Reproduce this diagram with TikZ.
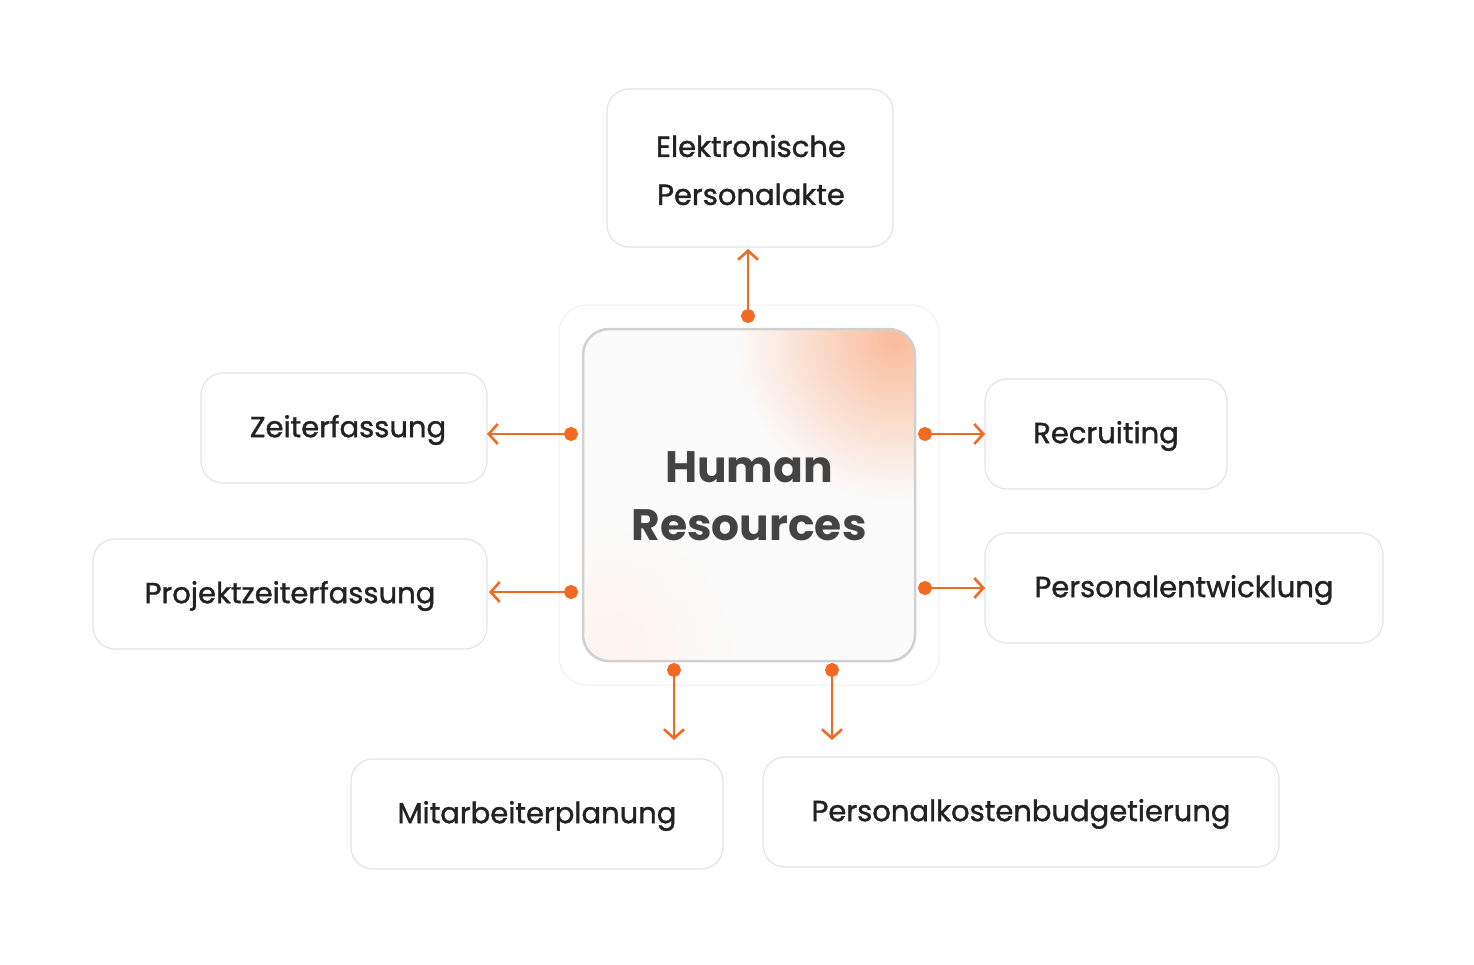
\documentclass[tikz,border=0pt]{standalone}
\usepackage{fontspec}
\setmainfont{Poppins}
\newfontfamily\med{Poppins}[FakeBold=1.3]
\usetikzlibrary{arrows.meta}
\definecolor{org}{HTML}{F26A21}
\definecolor{bord}{HTML}{E4E4E4}
\definecolor{txt}{HTML}{222222}
\begin{document}
\begin{tikzpicture}[x=1pt,y=-1pt,
  box/.style={draw=bord,line width=1.2pt,rounded corners=22pt,fill=white},
  lbl/.style={font=\med\fontsize{29}{48}\selectfont,text=txt,align=center},
  con/.style={draw=org,line width=2.8pt,{Circle[length=14pt,width=14pt]}-{Straight Barb[length=9pt,width=20pt,line width=2.6pt]}}]
\useasboundingbox (0,0) rectangle (1474,964);
% outer frame
\draw[draw=bord!60,line width=1pt,rounded corners=28pt] (559,305) rectangle (939,685);
% boxes
\draw[box] (607,89) rectangle (893,247);
\draw[box] (201,373) rectangle (487,483);
\draw[box] (93,539) rectangle (487,649);
\draw[box] (985,379) rectangle (1227,489);
\draw[box] (985,533) rectangle (1383,643);
\draw[box] (351,759) rectangle (723,869);
\draw[box] (763,757) rectangle (1279,867);
\node[lbl] (ep) at (751,170) {Elektronische\\Personalakte};
\node[lbl] (ze) at (348,430) {Zeiterfassung};
\node[lbl] (pz) at (290,596) {Projektzeiterfassung};
\node[lbl] (re) at (1106,436) {Recruiting};
\node[lbl] (pe) at (1184,590) {Personalentwicklung};
\node[lbl] (mp) at (537,816) {Mitarbeiterplanung};
\node[lbl] (pk) at (1021,814) {Personalkostenbudgetierung};
% center
\begin{scope}
\clip[rounded corners=26pt] (583,329) rectangle (915,661);
\fill[white!97!gray] (583,329) rectangle (915,661);
\shade[inner color=org!45,outer color=white!97!gray] (895,340) circle (160);
\shade[inner color=org!8,outer color=white!97!gray] (610,650) circle (130);
\end{scope}
\draw[draw=bord!80!gray,line width=2.5pt,rounded corners=26pt] (583,329) rectangle (915,661);
\node[font=\fontsize{44}{58}\selectfont\bfseries,text=txt!85,align=center] (hr) at (749,496) {Human\\Resources};
% connectors
\coordinate (t0) at (748,323); \coordinate (t1) at (748,249);
\coordinate (l0) at (578,434); \coordinate (l1) at (487,434);
\coordinate (m0) at (578,592); \coordinate (m1) at (489,592);
\coordinate (r0) at (918,434); \coordinate (r1) at (985,434);
\coordinate (s0) at (918,588); \coordinate (s1) at (985,588);
\coordinate (b0) at (674,663); \coordinate (b1) at (674,740);
\coordinate (c0) at (832,663); \coordinate (c1) at (832,740);
\foreach \a in {t,l,m,r,s,b,c}{\draw[con] (\a0) -- (\a1);}
\end{tikzpicture}
\end{document}
